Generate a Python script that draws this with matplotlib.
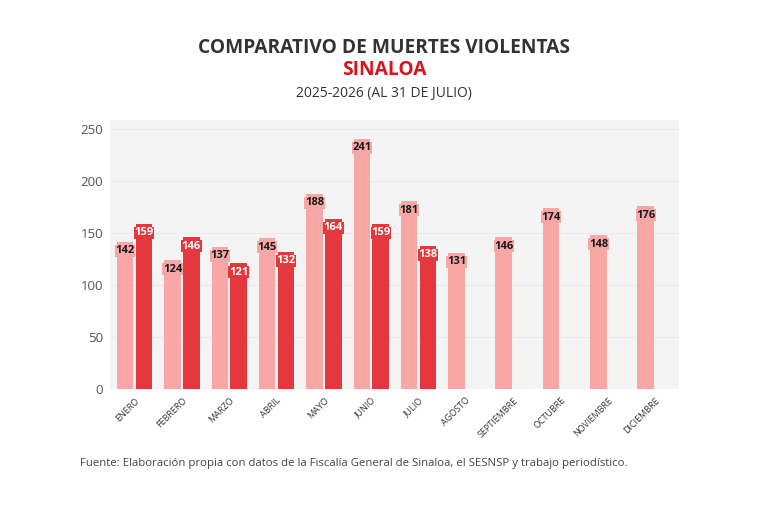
import matplotlib
matplotlib.use("Agg")
import matplotlib.pyplot as plt
import numpy as np

months = ["ENERO", "FEBRERO", "MARZO", "ABRIL", "MAYO", "JUNIO", "JULIO",
          "AGOSTO", "SEPTIEMBRE", "OCTUBRE", "NOVIEMBRE", "DICIEMBRE"]
vals_2025 = [142, 124, 137, 145, 188, 241, 181, 131, 146, 174, 148, 176]
vals_2026 = [159, 146, 121, 132, 164, 159, 138]
yticks = [0, 50, 100, 150, 200, 250]

light = "#F8A6A6"
dark = "#E5383E"

plt.rcParams['font.family'] = ['Open Sans', 'DejaVu Sans']

fig = plt.figure(figsize=(7.68, 5.12), dpi=100)
ax = fig.add_axes([0.1432, 0.2402, 0.7408, 0.5254])
ax.set_facecolor("#F4F4F4")

x = np.arange(len(months))
w = 0.35
ax.bar(x[:len(vals_2025)] - 0.2, vals_2025, width=w, color=light, zorder=3)
x2 = np.arange(len(vals_2026))
ax.bar(x2 + 0.2, vals_2026, width=w, color=dark, zorder=3)

for xi, v in zip(x - 0.2, vals_2025):
    ax.annotate(str(v), (xi, v), xytext=(0, -6.5), textcoords="offset points",
                ha="center", va="center", fontsize=8, fontweight="bold",
                color="#1a1a1a", zorder=5,
                bbox=dict(boxstyle="square,pad=0.05", fc=light, ec="none"))
for xi, v in zip(x2 + 0.2, vals_2026):
    ax.annotate(str(v), (xi, v), xytext=(0, -6.5), textcoords="offset points",
                ha="center", va="center", fontsize=8, fontweight="bold",
                color="white", zorder=5,
                bbox=dict(boxstyle="square,pad=0.05", fc=dark, ec="none"))

ax.set_xlim(-0.52, 11.5)
ax.set_ylim(0, 259)
ax.set_yticks(yticks)
ax.set_yticklabels([str(t) for t in yticks], fontsize=9.5, color="#555555")
ax.set_xticks(x)
ax.set_xticklabels(months, rotation=45, ha="right", rotation_mode="anchor",
                   fontsize=6.5, color="#333333")
ax.tick_params(axis="both", length=0, pad=5)
ax.grid(axis="y", color="#EAEAEA", linewidth=0.8, zorder=0)
for s in ax.spines.values():
    s.set_visible(False)

fig.text(0.5, 0.906, "COMPARATIVO DE MUERTES VIOLENTAS", ha="center", va="center",
         fontsize=13.8, fontweight="bold", color="#333333")
fig.text(0.5, 0.863, "SINALOA", ha="center", va="center",
         fontsize=13.8, fontweight="bold", color="#D7141A")
fig.text(0.5, 0.818, "2025-2026 (AL 31 DE JULIO)", ha="center", va="center",
         fontsize=10, color="#333333")
fig.text(0.104, 0.095, "Fuente: Elaboración propia con datos de la Fiscalía General de Sinaloa, el SESNSP y trabajo periodístico.",
         ha="left", va="center", fontsize=8.2, color="#444444")

fig.savefig("out.png", dpi=100, facecolor="white")
